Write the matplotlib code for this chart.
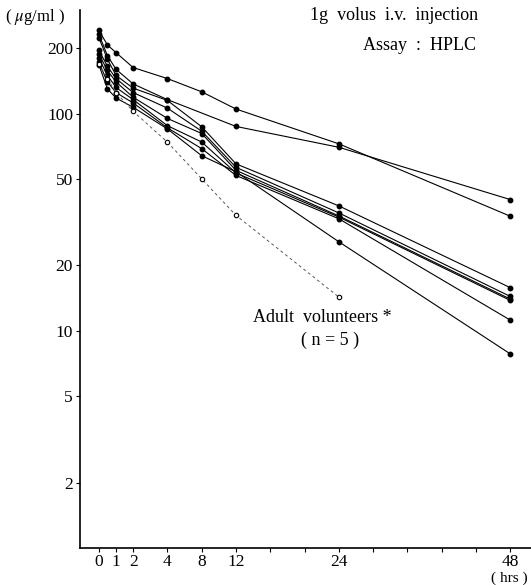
import numpy as np
import matplotlib
matplotlib.use('Agg')
import matplotlib.pyplot as plt

plt.rcParams['mathtext.fontset'] = 'stix'

# Sampling times (hrs) and serum levels (ug/ml)
hrs_full = [0, 0.5, 1, 2, 4, 8, 12, 24, 48]
hrs_no8 = [0, 0.5, 1, 2, 4, 12, 24, 48]

pt_a = [242, 207, 191, 163, 145, 126, 105, 72.6, 33.7]
pt_b = [232, 185, 160, 137, 116, 87.3, 70.0, 40.2]
pt_c = [224, 178, 150, 131, 115, 87, 58.7, 37.6, 15.8]
pt_d = [196, 165, 145, 125, 106, 83, 56.6, 34.9, 14.4]
pt_e = [188, 158, 140, 119, 95, 81, 54.8, 33.8, 14.0]
pt_f = [180, 150, 132, 116, 88, 74, 53.3, 33.4, 13.8]
pt_g = [172, 140, 125, 112, 86, 69, 51.9, 32.8, 11.2]
pt_h = [168, 130, 118, 107, 85, 64, 54.0, 25.7, 7.83]

hrs_adult = [0, 0.5, 1, 2, 4, 8, 12, 24]
adult = [170, 145, 125, 102.5, 73.9, 50.1, 34.0, 14.3]

x_ticks = [0, 1, 2, 4, 8, 12, 24, 48]
y_ticks = [2, 5, 10, 20, 50, 100, 200]

# hand-drawn time axis: piecewise spacing
brk_hrs = [-4, 0, 1, 2, 4, 8, 12, 24, 48, 60]
brk_pos = [-3, -1, -0.5, 0, 1, 2, 3, 6, 11, 13.5]


def fwd(x):
    return np.interp(x, brk_hrs, brk_pos)


def inv(p):
    return np.interp(p, brk_pos, brk_hrs)


serif = 'Liberation Serif'

fig = plt.figure(figsize=(5.31, 5.85), dpi=100)
ax = fig.add_axes([80 / 531, 1 - 548 / 585, 1 - 80 / 531, 538 / 585])
ax.set_xscale('function', functions=(fwd, inv))
ax.set_yscale('log')

patients = [(hrs_full, pt_a), (hrs_no8, pt_b), (hrs_full, pt_c),
            (hrs_full, pt_d), (hrs_full, pt_e), (hrs_full, pt_f),
            (hrs_full, pt_g), (hrs_full, pt_h)]
for t, v in patients:
    ax.plot(t, v, color='black', lw=0.8, marker='o', ms=3.2,
            mfc='black', mec='black')

ax.plot(hrs_adult, adult, color='0.35', lw=0.7, ls=(0, (3, 3)),
        marker='o', ms=3.2, mfc='white', mec='black', mew=0.8)

ax.set_xlim(-1.1, 50.9)
ax.set_ylim(1, 300)

ax.set_xticks(x_ticks)
ax.set_xticklabels([str(t) for t in x_ticks], fontfamily=serif, fontsize=12.5)
ax.set_xticks(inv([4, 5, 7, 8, 9, 10]), minor=True)
ax.set_yticks(y_ticks)
ax.set_yticklabels([str(v) for v in y_ticks], fontfamily=serif, fontsize=12.5)
ax.yaxis.set_minor_locator(matplotlib.ticker.NullLocator())

ax.tick_params(axis='both', which='both', direction='out', length=3,
               width=0.8, pad=2)
ax.tick_params(axis='x', pad=1)
for s in ['top', 'right']:
    ax.spines[s].set_visible(False)
ax.spines['left'].set_linewidth(1.2)
ax.spines['bottom'].set_linewidth(1.2)

fig.text(5 / 531, 1 - 17 / 585, '( $\\mu$g/ml )', fontfamily=serif,
         fontsize=12, va='center', ha='left')
fig.text(478 / 531, 1 - 16 / 585, '1g  volus  i.v.  injection',
         fontfamily=serif, fontsize=13, va='center', ha='right')
fig.text(476 / 531, 1 - 45 / 585, 'Assay  :  HPLC', fontfamily=serif,
         fontsize=13, va='center', ha='right')
fig.text(322 / 531, 1 - 317 / 585, 'Adult  volunteers *', fontfamily=serif,
         fontsize=13, va='center', ha='center')
fig.text(330 / 531, 1 - 340 / 585, '( n = 5 )', fontfamily=serif,
         fontsize=13, va='center', ha='center')
fig.text(528 / 531, 1 - 578 / 585, '( hrs )', fontfamily=serif,
         fontsize=11, va='center', ha='right')

fig.savefig('out.png', dpi=100)
